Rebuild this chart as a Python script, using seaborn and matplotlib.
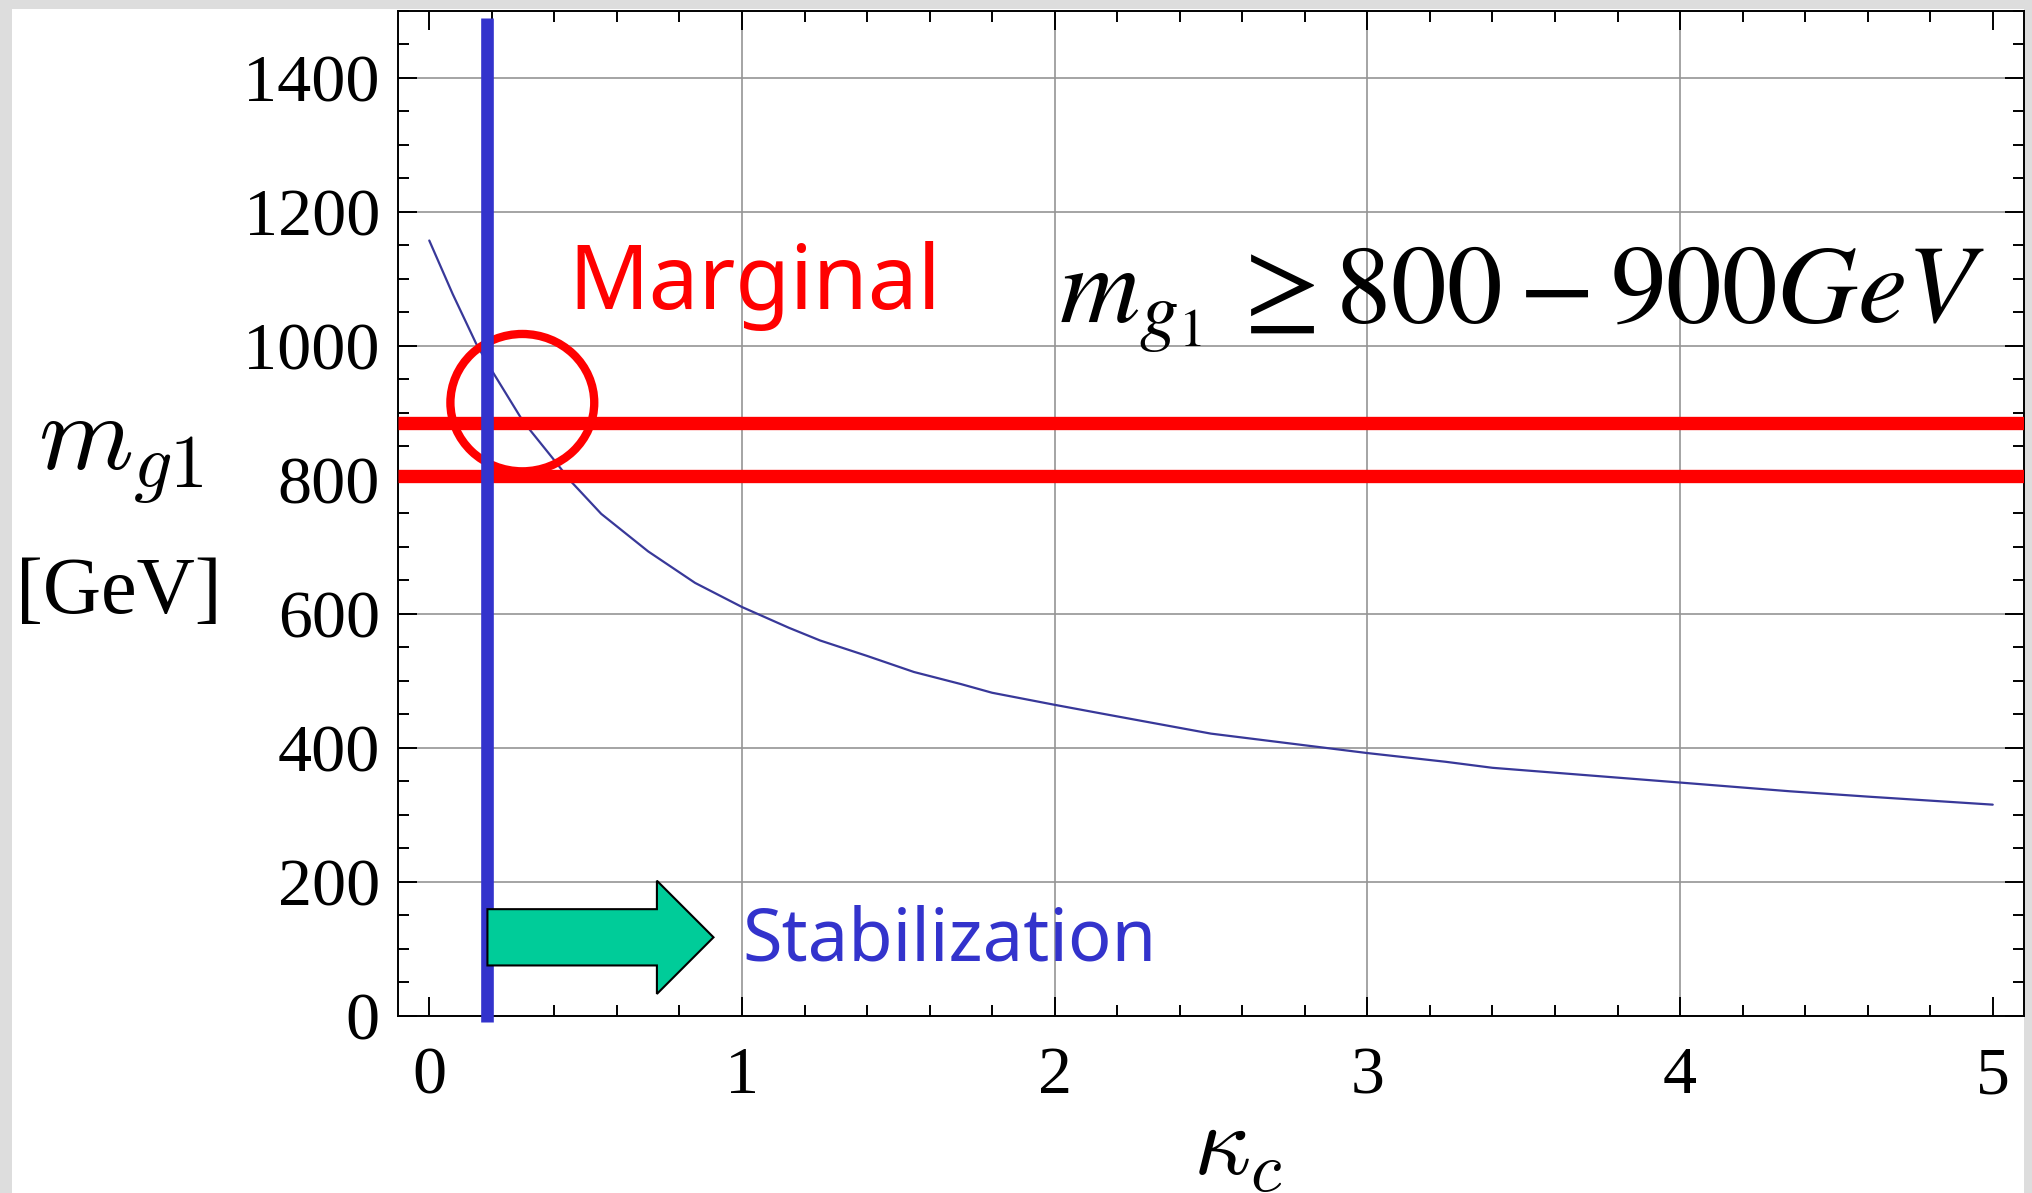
import numpy as np
import pandas as pd
import matplotlib
matplotlib.use("Agg")
import matplotlib.pyplot as plt
import seaborn as sns
from matplotlib.patches import Ellipse, FancyArrow, Rectangle
from matplotlib.ticker import MultipleLocator

# ---- data ----
kappa_c = [0, 0.075, 0.15, 0.2, 0.25, 0.3, 0.4, 0.45, 0.55, 0.7, 0.85, 1.0, 1.15,
           1.25, 1.4, 1.55, 1.7, 1.8, 2.0, 2.15, 2.5, 3.0, 3.25, 3.4, 4.0, 4.35,
           4.6, 5.0]
m_g1 = [1157, 1077, 1003, 963, 925, 887, 829, 799, 749, 693, 646, 610, 579,
        560, 537, 513, 495, 482, 464, 451, 421, 392, 379, 370, 348, 335,
        327, 315]
bound_lines = [806, 885]            # red horizontal bounds (GeV)
stabilization_kappa = 0.186         # blue vertical line
x_ticks = [0, 1, 2, 3, 4, 5]
x_grid = [1, 2, 3, 4]
y_ticks = [0, 200, 400, 600, 800, 1000, 1200, 1400]

# annotation geometry (data coords)
circle_center = (0.2976, 915)
circle_size = (0.46, 205)
arrow_tip_x = 0.909
arrow_head_len = 0.181
arrow_y = 117
arrow_width = 84
arrow_head_width = 169

df = pd.DataFrame({"kappa": kappa_c, "m": m_g1})

sns.set_theme(style="white")
plt.rcParams["font.family"] = ["Liberation Serif", "DejaVu Serif"]

W, H = 2033, 1193
fig = plt.figure(figsize=(W / 100, H / 100), dpi=100)
fig.patch.set_facecolor("#dddddd")
fig.add_artist(Rectangle((12 / W, 0), (2024 - 12) / W, (H - 9) / H,
                         transform=fig.transFigure, facecolor="white",
                         edgecolor="none", zorder=-10))

ax = fig.add_axes([398 / W, 1 - 1015.7 / H, (2024 - 398) / W, (1015.7 - 10.7) / H])
ax.set_facecolor("white")

sns.lineplot(data=df, x="kappa", y="m", ax=ax, color="#383899", linewidth=1.6,
             zorder=2)

ax.set_xlim(-0.1, 5.1)
ax.set_ylim(0, 1500)
ax.set_xticks(x_ticks)
ax.set_yticks(y_ticks)
ax.set_xticklabels([str(v) for v in x_ticks])
ax.set_yticklabels([str(v) for v in y_ticks])
ax.xaxis.set_minor_locator(MultipleLocator(0.2))
ax.yaxis.set_minor_locator(MultipleLocator(50))
ax.tick_params(which="both", direction="in", top=True, right=True, bottom=True,
               left=True, color="black", width=1.4)
ax.tick_params(which="major", length=13.7, labelsize=49, labelcolor="black")
ax.tick_params(which="minor", length=7.9)
ax.tick_params(axis="x", which="major", pad=22)
ax.tick_params(axis="y", which="major", pad=13)
ax.set_xlabel("")
ax.set_ylabel("")

ax.grid(False)
ax.yaxis.grid(True, which="major", color="#959595", linewidth=1.2, zorder=0.5)
for xv in x_grid:
    ax.axvline(xv, color="#959595", linewidth=1.2, zorder=0.5)
ax.set_axisbelow(True)
for s in ax.spines.values():
    s.set_visible(True)
    s.set_color("black")
    s.set_linewidth(1.4)

# red bounds
for yv in bound_lines:
    ax.axhline(yv, color="#ff0000", linewidth=9.6, zorder=3, solid_capstyle="butt")

# red circle
ax.add_patch(Ellipse(circle_center, circle_size[0], circle_size[1], fill=False,
                     edgecolor="#ff0000", linewidth=6, zorder=4))

# blue vertical line
ax.vlines(stabilization_kappa, -9, 1489, color="#3333cc", linewidth=9.1,
          zorder=5, clip_on=False, capstyle="butt")

# green arrow
ax.add_patch(FancyArrow(stabilization_kappa, arrow_y, arrow_tip_x - stabilization_kappa, 0,
                        width=arrow_width, head_width=arrow_head_width,
                        head_length=arrow_head_len, length_includes_head=True,
                        facecolor="#00cc99", edgecolor="black", linewidth=1.5,
                        zorder=6))

ax.text(1.0026, 83, "Stabilization", color="#3333cc", fontsize=52,
        family="Noto Sans", ha="left", va="baseline", zorder=7)
ax.text(0.444, 1055, "Marginal", color="#ff0000", fontsize=64,
        family="Noto Sans", ha="left", va="baseline", zorder=7)
ax.text(2.014, 1035, r"$m_{g_1}\,\geq 800-900GeV$", fontsize=80,
        math_fontfamily="stix", ha="left", va="baseline", color="black", zorder=7)

# axis labels
fig.text(38 / W, 1 - 470 / H, r"$m_{g1}$", fontsize=78, math_fontfamily="cm",
         ha="left", va="baseline", color="black")
fig.text(16 / W, 1 - 613 / H, "[GeV]", fontsize=58, family="Liberation Serif",
         ha="left", va="baseline", color="black")
fig.text(1193 / W, 1 - 1175 / H, r"$\kappa_c$", fontsize=72, math_fontfamily="cm",
         ha="left", va="baseline", color="black")

fig.savefig("out.png", dpi=100, facecolor=fig.get_facecolor())
